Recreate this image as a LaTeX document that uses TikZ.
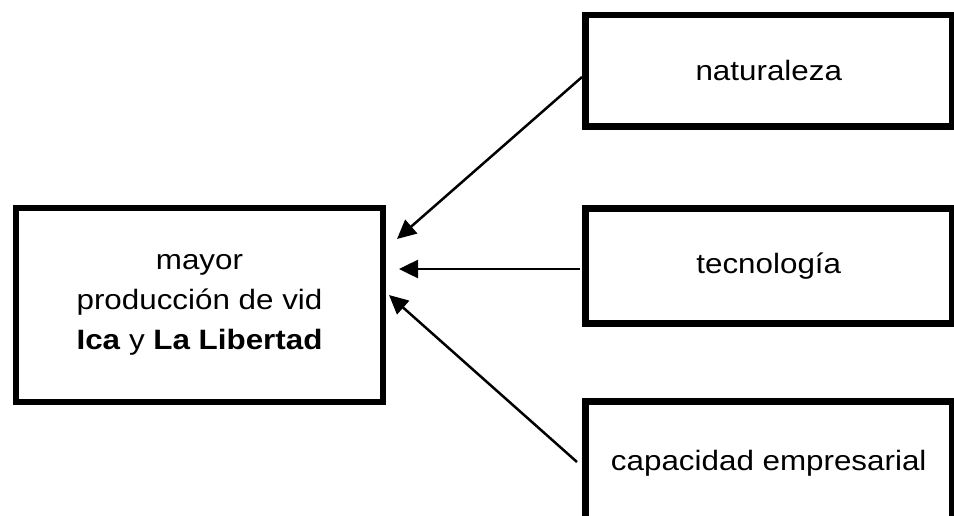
\documentclass[tikz,border=0pt]{standalone}
\usepackage{fontspec}
\setmainfont[FakeStretch=1.12]{Liberation Sans}
\usetikzlibrary{arrows.meta}
\begin{document}
\begin{tikzpicture}[x=1pt,y=-1pt,
  box/.style={draw=black,line width=6.5pt,rectangle,inner sep=0pt,
    align=center,font=\fontsize{28}{40}\selectfont},
  link/.style={line width=2.5pt,-{Triangle[length=19pt,width=18pt]}}]
\useasboundingbox (0,0) rectangle (954,515);
\clip (0,0) rectangle (954,515);

% effect box
\node[box,minimum width=367pt,minimum height=194pt] (prod) at (199.5,305)
  {mayor\\producción de vid\\\textbf{Ica} y \textbf{La Libertad}};

% cause boxes
\node[box,minimum width=366.5pt,minimum height=111.5pt] (nat) at (768.75,70.75) {naturaleza};
\node[box,minimum width=366.5pt,minimum height=115pt] (tec) at (768.75,266) {tecnología};
\node[box,minimum width=366.5pt,minimum height=123pt] (cap) at (768.75,463) {capacidad empresarial};

% arrow ends just short of the effect box
\coordinate (natstart) at (582,77);
\coordinate (tecstart) at (580,269);
\coordinate (capstart) at (577,462);
\coordinate (nattip) at (397,239);
\coordinate (tectip) at (399,269);
\coordinate (captip) at (389,295);

\draw[link] (natstart) -- (nattip);
\draw[link] (tecstart) -- (tectip);
\draw[link] (capstart) -- (captip);
\end{tikzpicture}
\end{document}
